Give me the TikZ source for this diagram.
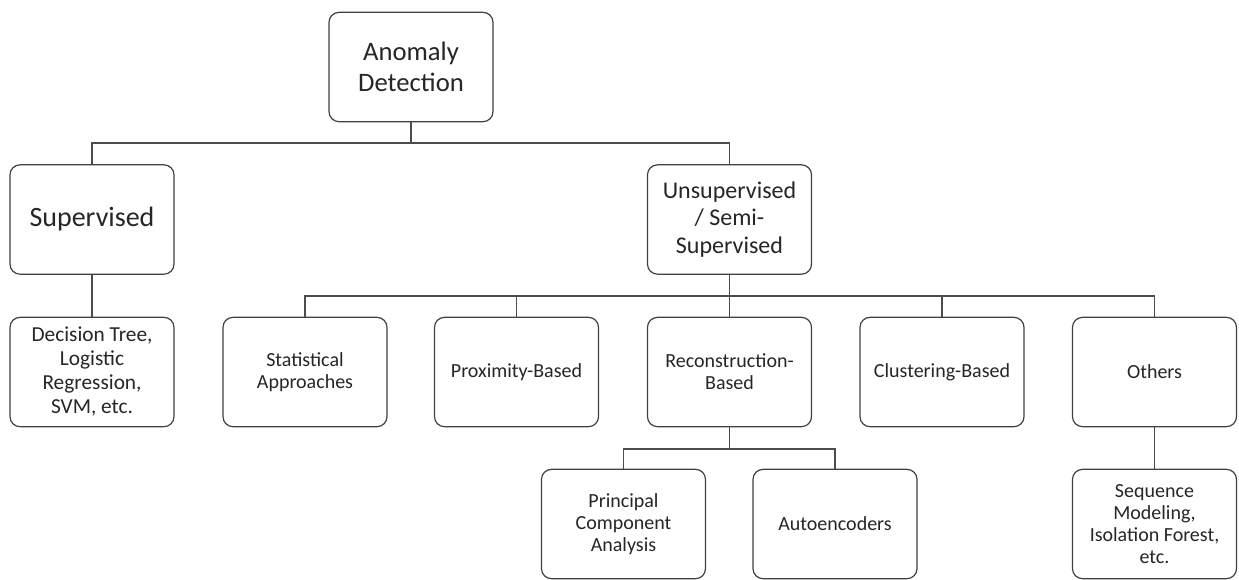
\documentclass[tikz,border=0pt]{standalone}
\usepackage{fontspec}
\setmainfont{Carlito}
\usetikzlibrary{positioning}
\tikzset{
  box/.style={draw=black!75, line width=0.9pt, rounded corners=7.5pt, fill=white,
    minimum width=123pt, minimum height=82pt, align=center, text=black!85,
    font=\fontsize{15}{16.5}\selectfont, inner sep=2pt},
  bigbox/.style={box, font=\fontsize{20}{23}\selectfont},
  midbox/.style={box, font=\fontsize{18}{20.5}\selectfont},
  leafbox/.style={box, font=\fontsize{16}{18}\selectfont},
  link/.style={draw=black!70, line width=0.9pt}
}
\begin{document}
\begin{tikzpicture}[x=0.75pt, y=-0.75pt]
  \useasboundingbox (0,0) rectangle (1239,579);

  % top level
  \node[bigbox] (anomaly) at (411,67) {Anomaly\\Detection};

  % second level
  \node[bigbox, font=\fontsize{21}{24}\selectfont] (superv) at (92,219.5) {Supervised};
  \node[midbox] (unsup) at (729.5,219.5) {Unsupervised\\/ Semi-\\Supervised};

  % third level
  \node[leafbox] (dtree) at (92,372) {Decision Tree,\\Logistic\\Regression,\\SVM, etc.};
  \node[box] (stat) at (305,372) {Statistical\\Approaches};
  \node[box] (prox) at (516.5,372) {Proximity-Based};
  \node[box] (recon) at (729.5,372) {Reconstruction-\\Based};
  \node[box] (clust) at (942,372) {Clustering-Based};
  \node[box] (others) at (1154.5,372) {Others};

  % fourth level
  \node[box] (pca) at (623.5,524) {Principal\\Component\\Analysis};
  \node[box] (autoenc) at (835,524) {Autoencoders};
  \node[box] (seqmod) at (1154.5,524) {Sequence\\Modeling,\\Isolation Forest,\\etc.};

  % bus points
  \coordinate (busA) at (411,143);
  \coordinate (busB) at (729.5,296);
  \coordinate (busC) at (729.5,449);

  % connectors
  \draw[link] (anomaly.south) -- (busA);
  \draw[link] (superv.north) |- (busA) -| (unsup.north);
  \draw[link] (superv.south) -- (dtree.north);
  \draw[link] (unsup.south) -- (recon.north);
  \foreach \n in {stat,prox,clust,others}
    \draw[link] (busB) -| (\n.north);
  \draw[link] (recon.south) -- (busC);
  \draw[link] (pca.north) |- (busC) -| (autoenc.north);
  \draw[link] (others.south) -- (seqmod.north);
\end{tikzpicture}
\end{document}
